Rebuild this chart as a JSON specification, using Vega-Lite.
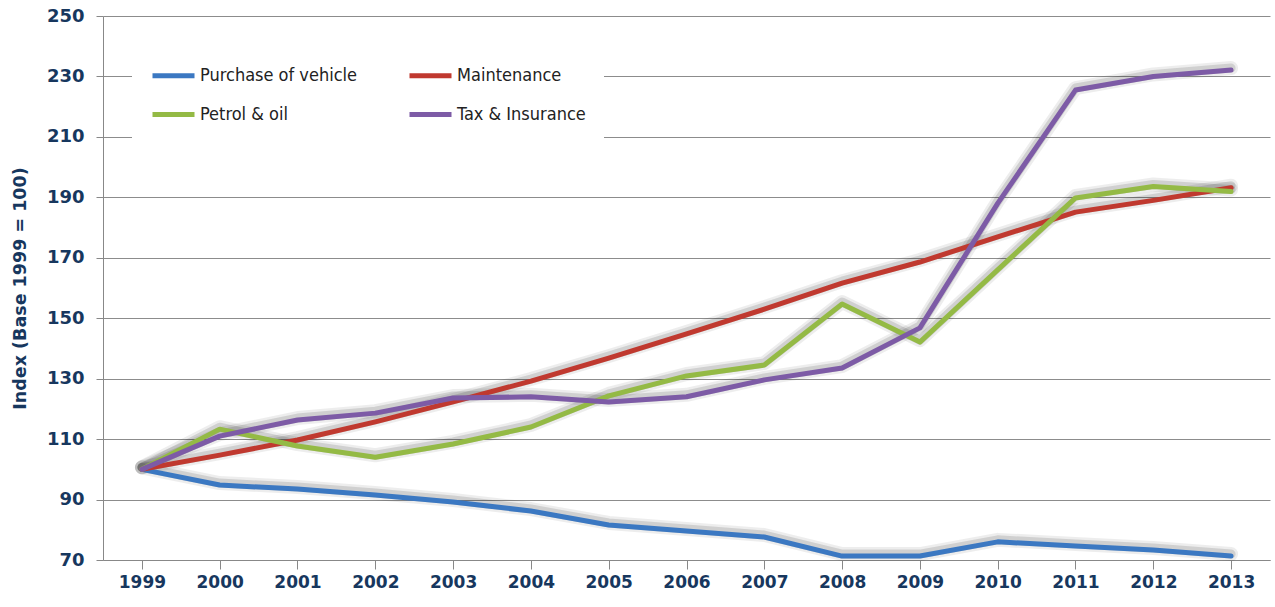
{
  "$schema": "https://vega.github.io/schema/vega-lite/v6.json",
  "width": 1167,
  "height": 544,
  "autosize": {"type": "none"},
  "padding": {"left": 103, "top": 16, "right": 5, "bottom": 47},
  "background": "white",
  "config": {"view": {"stroke": null}},
  "data": {"values": [
    {"year": "1999", "series": "Purchase of vehicle", "value": 100},
    {"year": "2000", "series": "Purchase of vehicle", "value": 94.8},
    {"year": "2001", "series": "Purchase of vehicle", "value": 93.5},
    {"year": "2002", "series": "Purchase of vehicle", "value": 91.5},
    {"year": "2003", "series": "Purchase of vehicle", "value": 89.2},
    {"year": "2004", "series": "Purchase of vehicle", "value": 86.2},
    {"year": "2005", "series": "Purchase of vehicle", "value": 81.6},
    {"year": "2006", "series": "Purchase of vehicle", "value": 79.6},
    {"year": "2007", "series": "Purchase of vehicle", "value": 77.6},
    {"year": "2008", "series": "Purchase of vehicle", "value": 71.3},
    {"year": "2009", "series": "Purchase of vehicle", "value": 71.3},
    {"year": "2010", "series": "Purchase of vehicle", "value": 76},
    {"year": "2011", "series": "Purchase of vehicle", "value": 74.6},
    {"year": "2012", "series": "Purchase of vehicle", "value": 73.3},
    {"year": "2013", "series": "Purchase of vehicle", "value": 71.3},
    {"year": "1999", "series": "Maintenance", "value": 100},
    {"year": "2000", "series": "Maintenance", "value": 104.7},
    {"year": "2001", "series": "Maintenance", "value": 109.7},
    {"year": "2002", "series": "Maintenance", "value": 115.7},
    {"year": "2003", "series": "Maintenance", "value": 122.3},
    {"year": "2004", "series": "Maintenance", "value": 129.2},
    {"year": "2005", "series": "Maintenance", "value": 136.8},
    {"year": "2006", "series": "Maintenance", "value": 144.8},
    {"year": "2007", "series": "Maintenance", "value": 153},
    {"year": "2008", "series": "Maintenance", "value": 161.6},
    {"year": "2009", "series": "Maintenance", "value": 168.6},
    {"year": "2010", "series": "Maintenance", "value": 176.9},
    {"year": "2011", "series": "Maintenance", "value": 185.1},
    {"year": "2012", "series": "Maintenance", "value": 189},
    {"year": "2013", "series": "Maintenance", "value": 193.2},
    {"year": "1999", "series": "Petrol & oil", "value": 100},
    {"year": "2000", "series": "Petrol & oil", "value": 113.3},
    {"year": "2001", "series": "Petrol & oil", "value": 107.7},
    {"year": "2002", "series": "Petrol & oil", "value": 104},
    {"year": "2003", "series": "Petrol & oil", "value": 108.4},
    {"year": "2004", "series": "Petrol & oil", "value": 114},
    {"year": "2005", "series": "Petrol & oil", "value": 124.3},
    {"year": "2006", "series": "Petrol & oil", "value": 130.9},
    {"year": "2007", "series": "Petrol & oil", "value": 134.5},
    {"year": "2008", "series": "Petrol & oil", "value": 154.7},
    {"year": "2009", "series": "Petrol & oil", "value": 142.1},
    {"year": "2010", "series": "Petrol & oil", "value": 166},
    {"year": "2011", "series": "Petrol & oil", "value": 189.8},
    {"year": "2012", "series": "Petrol & oil", "value": 193.6},
    {"year": "2013", "series": "Petrol & oil", "value": 191.9},
    {"year": "1999", "series": "Tax & Insurance", "value": 100},
    {"year": "2000", "series": "Tax & Insurance", "value": 111},
    {"year": "2001", "series": "Tax & Insurance", "value": 116.3},
    {"year": "2002", "series": "Tax & Insurance", "value": 118.6},
    {"year": "2003", "series": "Tax & Insurance", "value": 123.6},
    {"year": "2004", "series": "Tax & Insurance", "value": 124},
    {"year": "2005", "series": "Tax & Insurance", "value": 122.3},
    {"year": "2006", "series": "Tax & Insurance", "value": 124},
    {"year": "2007", "series": "Tax & Insurance", "value": 129.6},
    {"year": "2008", "series": "Tax & Insurance", "value": 133.5},
    {"year": "2009", "series": "Tax & Insurance", "value": 146.8},
    {"year": "2010", "series": "Tax & Insurance", "value": 188},
    {"year": "2011", "series": "Tax & Insurance", "value": 225.5},
    {"year": "2012", "series": "Tax & Insurance", "value": 230},
    {"year": "2013", "series": "Tax & Insurance", "value": 232.1}
  ]},
  "encoding": {
    "x": {
      "field": "year", "type": "ordinal",
      "scale": {"paddingInner": 0, "paddingOuter": 0},
      "axis": {
        "title": null, "labelAngle": 0, "grid": false,
        "bandPosition": 0, "domainColor": "#888888", "tickColor": "#888888",
        "tickSize": 9, "labelPadding": 5,
        "labelFont": "DejaVu Sans", "labelFontWeight": "bold", "labelFontSize": 17,
        "labelColor": "#17375E"
      }
    },
    "y": {
      "field": "value", "type": "quantitative",
      "scale": {"domain": [70, 250], "nice": false, "zero": false},
      "axis": {
        "values": [70, 90, 110, 130, 150, 170, 190, 210, 230, 250],
        "title": "Index (Base  1999 = 100)",
        "titleFont": "DejaVu Sans", "titleFontWeight": "bold", "titleFontSize": 17.5,
        "titleColor": "#17375E", "titlePadding": 17,
        "grid": true, "gridColor": "#8c8c8c", "gridWidth": 1,
        "domainColor": "#888888", "tickColor": "#888888", "tickSize": 7,
        "labelPadding": 12,
        "labelFont": "DejaVu Sans", "labelFontWeight": "bold", "labelFontSize": 18,
        "labelColor": "#17375E"
      }
    }
  },
  "layer": [
    {
      "mark": {"type": "line", "stroke": "#000000", "strokeWidth": 14, "opacity": 0.07, "yOffset": -2, "strokeJoin": "round", "strokeCap": "round"},
      "encoding": {"detail": {"field": "series"}}
    },
    {
      "mark": {"type": "line", "stroke": "#000000", "strokeWidth": 9, "opacity": 0.12, "yOffset": -2, "strokeJoin": "round", "strokeCap": "round"},
      "encoding": {"detail": {"field": "series"}}
    },
    {
      "mark": {"type": "line", "strokeWidth": 5, "strokeJoin": "round", "strokeCap": "round"},
      "encoding": {
        "color": {
          "field": "series", "type": "nominal",
          "scale": {
            "domain": ["Purchase of vehicle", "Maintenance", "Petrol & oil", "Tax & Insurance"],
            "range": ["#3B78C2", "#C0392F", "#94BA45", "#7D5BA6"]
          },
          "legend": {
            "title": null, "orient": "none", "legendX": 29, "legendY": 18,
            "direction": "horizontal", "columns": 2, "columnPadding": 41, "rowPadding": 5,
            "fillColor": "white", "padding": 18,
            "symbolType": "stroke", "symbolSize": 1764, "symbolStrokeWidth": 5,
            "labelFont": "DejaVu Sans Condensed", "labelFontSize": 18, "labelColor": "#222222",
            "labelOffset": 3, "labelLimit": 300
          }
        }
      }
    }
  ]
}
